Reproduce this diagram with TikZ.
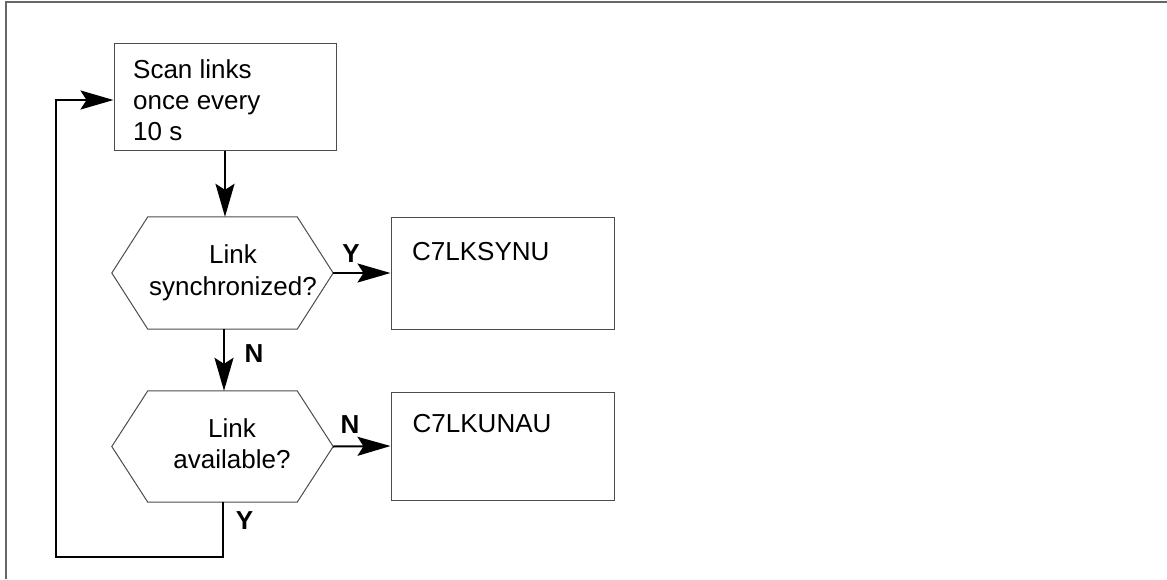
\documentclass[tikz,border=0pt]{standalone}
\usepackage{fontspec}
\setmainfont{Liberation Sans}
\usetikzlibrary{arrows.meta}
\begin{document}
\begin{tikzpicture}[x=1pt,y=-1pt,
  shapeline/.style={draw=black!70, line width=1pt},
  boxshape/.style={shapeline, rectangle, inner sep=0pt},
  hexframe/.style={rectangle, inner sep=0pt},
  flow/.style={draw=black, line width=2pt, -{Stealth[length=33pt,width=19pt,inset=6pt]}},
  txt/.style={font=\fontsize{26}{31}\selectfont, inner sep=0pt, text=black},
  lbl/.style={font=\fontsize{26}{31}\selectfont\bfseries, inner sep=0pt, text=black}
]
\useasboundingbox (0,0) rectangle (1167,579);
% outer frame (top and left edges visible)
\draw[draw=black!60, line width=1.5pt] (6,579) -- (6,2) -- (1167,2);

% boxes
\node[boxshape, minimum width=222pt, minimum height=107pt] (scan) at (225,96.5) {};
\node[boxshape, minimum width=223pt, minimum height=112pt] (box1) at (502.5,273) {};
\node[boxshape, minimum width=223pt, minimum height=108pt] (box2) at (502.5,446) {};

% hexagons
\node[hexframe, minimum width=221pt, minimum height=112pt] (hex1) at (222.5,273) {};
\node[hexframe, minimum width=221pt, minimum height=111pt] (hex2) at (222.5,446.5) {};
\foreach \h in {hex1,hex2}{
  \draw[shapeline] (\h.west) -- ([xshift=36pt]\h.north west) -- ([xshift=-36pt]\h.north east)
    -- (\h.east) -- ([xshift=-36pt]\h.south east) -- ([xshift=36pt]\h.south west) -- cycle;
}

% texts
\node[txt, anchor=base west] (t1) at (133,78) {Scan links};
\node[txt, anchor=base west] (t2) at (133,109.5) {once every};
\node[txt, anchor=base west] (t3) at (133,140) {10 s};
\node[txt, anchor=base] (h1a) at (233,263.5) {Link};
\node[txt, anchor=base] (h1b) at (233,295) {synchronized?};
\node[txt, anchor=base] (h2a) at (232,437.5) {Link};
\node[txt, anchor=base] (h2b) at (232,468.5) {available?};
\node[txt, anchor=base west] (b1t) at (412,260) {C7LKSYNU};
\node[txt, anchor=base west] (b2t) at (412.5,432) {C7LKUNAU};

% connectors
\coordinate (loopA) at (56,557);
\coordinate (loopB) at (56,100);
\draw[flow] (scan.south) -- (scan.south |- hex1.north);
\draw[flow] (hex1.east) -- (box1.west);
\draw[flow] ([xshift=1.5pt]hex1.south) -- ([xshift=1.5pt]hex1.south |- hex2.north);
\draw[flow] (hex2.east) -- (box2.west);
\draw[flow] (hex2.south) |- (loopA) -- (loopB) -- (scan.west |- loopB);

% branch labels
\node[lbl] (ly1) at (351,254) {Y};
\node[lbl] (ln1) at (254,354) {N};
\node[lbl] (ln2) at (350,425) {N};
\node[lbl] (ly2) at (244.5,520.5) {Y};
\end{tikzpicture}
\end{document}
